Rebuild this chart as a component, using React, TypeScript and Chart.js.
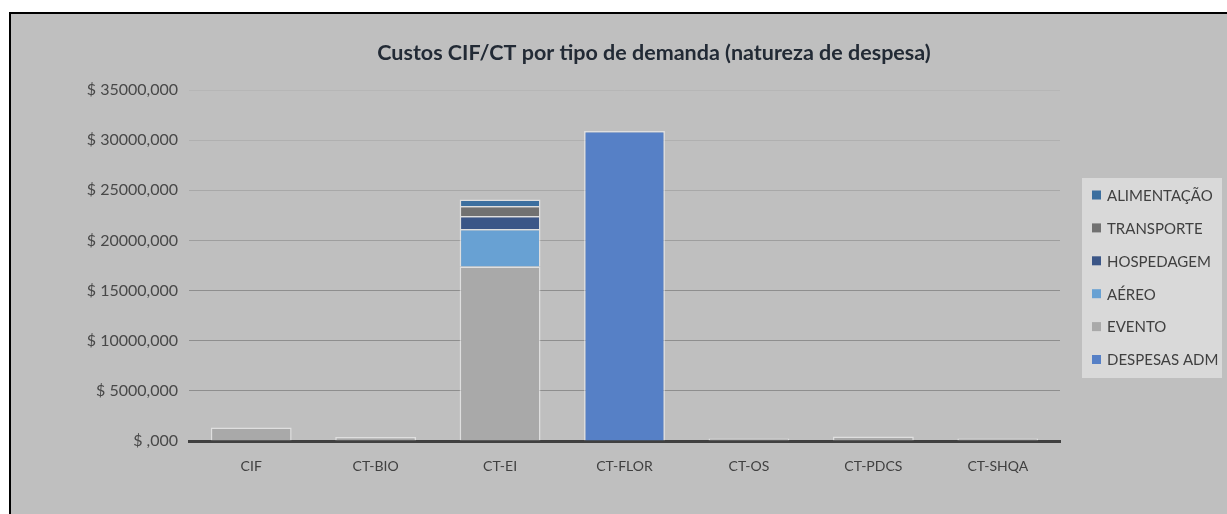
import React, { useEffect, useRef } from 'react';
import { Chart, registerables } from 'chart.js';

Chart.register(...registerables);

const categories = ['CIF', 'CT-BIO', 'CT-EI', 'CT-FLOR', 'CT-OS', 'CT-PDCS', 'CT-SHQA'];
const despesasAdm = [null, null, null, 30900, null, null, null];
const evento = [1350, 400, 17400, null, 260, 450, 260];
const aereo = [null, null, 3750, null, null, null, null];
const hospedagem = [null, null, 1290, null, null, null, null];
const transporte = [null, null, 1000, null, null, null, null];
const alimentacao = [null, null, 650, null, null, null, null];
const seriesNames = ['DESPESAS ADM', 'EVENTO', 'AÉREO', 'HOSPEDAGEM', 'TRANSPORTE', 'ALIMENTAÇÃO'];
const seriesColors = ['#5680c6', '#a9a9a9', '#68a1d3', '#3b5687', '#717171', '#3c6f9f'];
const yMin = 0;
const yMax = 35000;
const yStep = 5000;
const titleText = 'Custos CIF/CT por tipo de demanda (natureza de despesa)';

const FONT = 'Lato, "Noto Sans", sans-serif';

const formatTick = (v: number) => (v === 0 ? '$ ,000' : '$ ' + v + ',000');

const titlePlugin = {
  id: 'customTitle',
  afterDraw(chart: any) {
    const ctx = chart.ctx;
    ctx.save();
    ctx.font = 'bold 21.5px ' + FONT;
    ctx.fillStyle = '#222a35';
    ctx.textAlign = 'center';
    ctx.textBaseline = 'middle';
    ctx.fillText(titleText, 643, 39);
    ctx.restore();
  },
};

const legendPlugin = {
  id: 'customLegend',
  afterDraw(chart: any) {
    const ctx = chart.ctx;
    const x0 = 1071;
    const y0 = 164;
    ctx.save();
    ctx.fillStyle = '#d9d9d9';
    ctx.fillRect(x0, y0, 140, 200);
    ctx.font = '15px ' + FONT;
    ctx.textBaseline = 'middle';
    ctx.textAlign = 'left';
    const ds = chart.data.datasets.slice().reverse();
    ds.forEach((d: any, i: number) => {
      const cy = y0 + 17 + i * 32.9;
      ctx.fillStyle = d.backgroundColor;
      ctx.fillRect(x0 + 10, cy - 4.5, 9, 9);
      ctx.fillStyle = '#404040';
      ctx.fillText(d.label, x0 + 25, cy + 1);
    });
    ctx.restore();
  },
};

export default function App() {
  const ref = useRef<HTMLCanvasElement | null>(null);

  useEffect(() => {
    if (!ref.current) return;
    const data = [despesasAdm, evento, aereo, hospedagem, transporte, alimentacao];
    const chart = new Chart(ref.current, {
      type: 'bar',
      data: {
        labels: categories,
        datasets: data.map((values, i) => ({
          label: seriesNames[i],
          data: values,
          backgroundColor: seriesColors[i],
          borderColor: 'rgba(255,255,255,0.5)',
          borderWidth: 1.5,
          barPercentage: 0.65,
          categoryPercentage: 1,
        })),
      },
      options: {
        animation: false,
        responsive: false,
        maintainAspectRatio: false,
        layout: { padding: { left: 0, right: 167, top: 76, bottom: 33 } },
        plugins: {
          legend: { display: false },
          title: { display: false },
          tooltip: { enabled: false },
        },
        scales: {
          x: {
            stacked: true,
            grid: { display: false, drawTicks: false },
            border: { display: true, color: '#404040', width: 3 },
            ticks: { color: '#404040', font: { family: FONT, size: 14 }, padding: 17 },
            afterFit(scale: any) {
              scale.height = 40;
            },
          },
          y: {
            stacked: true,
            min: yMin,
            max: yMax,
            grid: {
              drawTicks: false,
              color: (c: any) => {
                const v = c.tick ? c.tick.value : 0;
                if (v >= 35000) return '#b6b6b6';
                if (v >= 30000) return '#b0b0b0';
                if (v >= 25000) return '#a8a8a8';
                if (v >= 20000) return '#9e9e9e';
                return '#8e8e8e';
              },
              lineWidth: 1,
            },
            border: { display: false },
            ticks: {
              stepSize: yStep,
              color: '#484848',
              font: { family: FONT, size: 16 },
              padding: 11,
              callback: (v: any) => formatTick(Number(v)),
            },
            afterFit(scale: any) {
              scale.width = 178;
            },
          },
        },
      },
      plugins: [titlePlugin, legendPlugin],
    });
    return () => chart.destroy();
  }, []);

  return (
    <div
      style={{
        position: 'fixed',
        left: 9,
        top: 12,
        width: 1216,
        height: 500,
        borderLeft: '2px solid #000',
        borderTop: '2px solid #000',
        background: '#bfbfbf',
        overflow: 'hidden',
      }}
    >
      <canvas ref={ref} width={1216} height={500} style={{ display: 'block', width: 1216, height: 500 }} />
    </div>
  );
}
